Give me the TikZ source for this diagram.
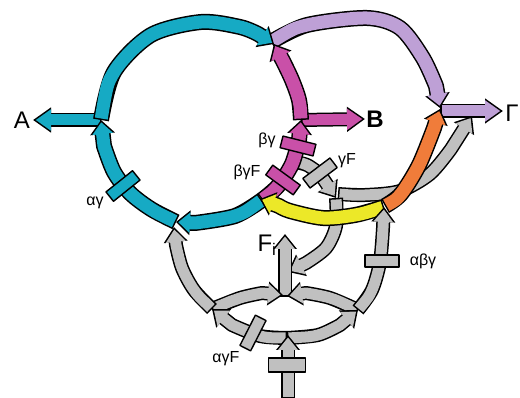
\documentclass[tikz,border=0pt]{standalone}
\usepackage{fontspec}
\setmainfont{Liberation Sans}
\usetikzlibrary{arrows.meta}
\definecolor{cy}{RGB}{22,170,196}
\definecolor{pk}{RGB}{201,80,168}
\definecolor{pu}{RGB}{190,160,214}
\definecolor{og}{RGB}{240,124,58}
\definecolor{ye}{RGB}{236,232,40}
\definecolor{gy}{RGB}{192,192,192}
% curved arrow: size, colour, body points, tip point
\newcommand\arw[4]{%
  \draw[#1o] plot[smooth] coordinates {#3} -- #4;
  \draw[#1i,draw=#2] plot[smooth] coordinates {#3} -- #4;
}
% straight arrow: size, colour, start, tip
\newcommand\sarw[4]{%
  \draw[#1o] #3 -- #4;
  \draw[#1i,draw=#2] #3 -- #4;
}
\begin{document}
\begin{tikzpicture}[x=1pt,y=-1pt,line join=round,
  bigo/.style={draw=black,line width=16pt,-{Triangle[width=24pt,length=14pt]}},
  bigi/.style={line width=13pt,shorten >=2.3pt,shorten <=1.5pt,-{Triangle[width=20pt,length=11.7pt]}},
  sideo/.style={draw=black,line width=14pt,-{Triangle[width=24pt,length=18pt]}},
  sidei/.style={line width=11pt,shorten >=2.7pt,shorten <=1.5pt,-{Triangle[width=20.4pt,length=15.3pt]}},
  gryo/.style={draw=black,line width=14pt,-{Triangle[width=23pt,length=15pt]}},
  gryi/.style={line width=11pt,shorten >=2.5pt,shorten <=1.5pt,-{Triangle[width=19.2pt,length=12.5pt]}},
  bx/.style={draw=black,line width=1.4pt,minimum width=34pt,minimum height=12pt,inner sep=0pt},
  lbl/.style={font=\fontsize{16}{18}\selectfont,inner sep=0pt},
  big/.style={inner sep=0pt}
]
\useasboundingbox (0,0) rectangle (520,398);
% junctions
\coordinate (JA) at (101,120);
\coordinate (Jtop) at (274,44);
\coordinate (JY) at (262,200);
\coordinate (Jbl) at (176,222);
\coordinate (JB) at (301,120);
\coordinate (JG) at (440,109);
\coordinate (JO) at (385,206);
\coordinate (Jg) at (336,198);
\coordinate (L) at (212,309);
\coordinate (R) at (358,310);
\coordinate (B0) at (287,338);
\coordinate (C) at (285,297);
\coordinate (Aend) at (33,120);
\coordinate (Bend) at (365,119);
\coordinate (G0) at (440,111);
\coordinate (Gend) at (503,111);
\coordinate (Fend) at (285,234);
\coordinate (In) at (288,398);
\coordinate (Inend) at (288,335);
% side outputs
\sarw{side}{pu}{(G0)}{(Gend)}
\sarw{side}{cy}{(JA)}{(Aend)}
\sarw{side}{pk}{(JB)}{(Bend)}
% grey network (lower layer)
\arw{gry}{gy}{(338,194) (365,195) (400,191) (430,174) (451,149)}{(472,116)}
\arw{gry}{gy}{(Jg) (336,226) (326,248) (306,263)}{(288,272)}
\arw{gry}{gy}{(291,161) (307,165) (320,174)}{(Jg)}
\node[bx,fill=gy,rotate=37] (bgF) at (320,173) {};
\sarw{gry}{gy}{(C)}{(Fend)}
\arw{gry}{gy}{(L) (240,298) (262,293)}{(283,295)}
\arw{gry}{gy}{(R) (330,298) (306,293)}{(287,296)}
\arw{gry}{gy}{(L) (194,290) (182,268) (176,245)}{(174,227)}
% purple
\arw{big}{pu}{(271,42) (307,25) (367,18) (400,28) (423,58) (436,86)}{(440,108)}
% cyan ring
\arw{big}{cy}{(JA) (114,72) (151,35) (201,22) (240,27) (258,34)}{(Jtop)}
\arw{big}{cy}{(Jbl) (151,209) (130,193) (114,172) (104,146)}{(JA)}
\node[bx,fill=cy,rotate=38.6] (bag) at (123,186) {};
\arw{big}{cy}{(JY) (235,216) (195,223)}{(Jbl)}
% pink
\arw{big}{pk}{(JB) (299,100) (292,80) (283,61)}{(Jtop)}
\arw{big}{pk}{(JY) (278,186) (292,164) (299,140)}{(JB)}
\node[bx,fill=pk,rotate=-14] (bbg) at (298,146) {};
\node[bx,fill=pk,rotate=-36] (bbgF) at (283,180) {};
% yellow, orange
\arw{big}{ye}{(384,207) (355,215) (323,218) (290,211) (279,206)}{(260,199)}
\arw{big}{og}{(JO) (401,194) (419,165) (434,128)}{(JG)}
% grey network (upper layer)
\arw{gry}{gy}{(R) (372,290) (380,262) (383,228)}{(384,207)}
\node[bx,fill=gy] (babg) at (382,261) {};
\arw{gry}{gy}{(B0) (260,336) (232,325)}{(L)}
\arw{gry}{gy}{(B0) (318,335) (340,325)}{(R)}
\node[bx,fill=gy,rotate=63] (bagF) at (253,333) {};
\sarw{gry}{gy}{(In)}{(Inend)}
\node[bx,fill=gy,minimum width=37pt,minimum height=14pt] (bin) at (287,365) {};
% labels
\node[big,font=\fontsize{24}{28}\selectfont] (tA) at (22,120) {A};
\node[big,font=\bfseries\fontsize{24}{28}\selectfont] (tB) at (375,119) {B};
\node[big,font=\fontsize{24}{28}\selectfont] (tG) at (512,113) {Γ};
\node[big,font=\fontsize{24}{28}\selectfont] (tF) at (267,245) {F\textsubscript{i}};
\node[lbl] (lag) at (95,203) {αγ};
\node[lbl] (lbg) at (267,140) {βγ};
\node[lbl] (lbgF) at (247,172) {βγF};
\node[lbl] (lgF) at (347,161) {γF};
\node[lbl] (labg) at (423,261) {αβγ};
\node[lbl] (lagF) at (226,359) {αγF};
\end{tikzpicture}
\end{document}
